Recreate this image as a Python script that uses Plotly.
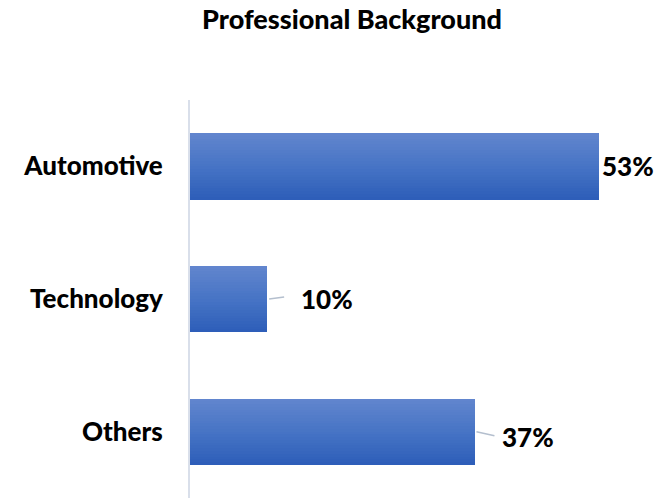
import plotly.graph_objects as go

# Survey breakdown of professional background (share of respondents, %)
categories = ["Automotive", "Technology", "Others"]
shares = [53, 10, 37]
value_labels = ["53%", "10%", "37%"]

# Label placement: pixel gap from bar end, vertical nudge, and whether a leader line is drawn
label_gap = [1, 32, 25]
label_nudge = [0, 0, -5]
leader = [None, (2, 0, 17, 2), (1, 0, 19, -4)]

positions = list(range(len(categories)))
BAR_W = 0.5
N_STRIPS = 24

top_rgb = (98, 134, 206)
mid_rgb = (68, 114, 196)
bot_rgb = (45, 93, 184)


def shade(t):
    # vertical gradient: lighter at the top edge, darker at the bottom edge
    if t < 0.55:
        a, b, u = top_rgb, mid_rgb, t / 0.55
    else:
        a, b, u = mid_rgb, bot_rgb, (t - 0.55) / 0.45
    r, g, bl = (round(a[i] + (b[i] - a[i]) * u) for i in range(3))
    return f"rgb({r},{g},{bl})"


fig = go.Figure()
step = BAR_W / N_STRIPS
for k in range(N_STRIPS):
    w = step * (1.0 if k == N_STRIPS - 1 else 1.15)
    fig.add_trace(go.Bar(
        x=shares,
        y=positions,
        orientation="h",
        width=[w] * len(shares),
        offset=[-BAR_W / 2 + k * step] * len(shares),
        marker=dict(color=shade((k + 0.5) / N_STRIPS), line=dict(width=0)),
        hoverinfo="skip",
        showlegend=False,
    ))

font_family = "Lato, 'Open Sans', sans-serif"

annotations = []
shapes = []
for pos, val, txt, gap, dy, ld in zip(positions, shares, value_labels, label_gap, label_nudge, leader):
    annotations.append(dict(
        x=val, y=pos, xref="x", yref="y", text=txt, showarrow=False,
        xanchor="left", yanchor="middle", xshift=gap, yshift=dy,
        font=dict(family=font_family, size=26, color="#000000", weight=900),
    ))
    if ld is not None:
        x0, y0, x1, y1 = ld
        shapes.append(dict(
            type="line", xref="x", yref="y",
            xsizemode="pixel", ysizemode="pixel",
            xanchor=val, yanchor=pos,
            x0=x0, y0=y0, x1=x1, y1=y1,
            line=dict(color="#B4BFCE", width=1.5),
        ))

fig.update_layout(
    width=656, height=498,
    margin=dict(l=190, r=0, t=100, b=0),
    paper_bgcolor="white", plot_bgcolor="white",
    barmode="overlay", bargap=0,
    title=dict(
        text="Professional Background",
        x=352 / 656, xanchor="center", y=1 - 20 / 498, yanchor="middle",
        font=dict(family=font_family, size=27, color="#000000", weight=900),
    ),
    xaxis=dict(range=[0, 60.4], visible=False, showgrid=False, zeroline=False),
    yaxis=dict(
        range=[len(categories) - 0.5, -0.5],
        tickmode="array", tickvals=positions, ticktext=categories,
        showline=True, linecolor="#D9DFEA", linewidth=2,
        showgrid=False, zeroline=False, ticks="",
        ticklabelstandoff=20,
        tickfont=dict(family=font_family, size=26, color="#000000", weight=900),
    ),
    annotations=annotations,
    shapes=shapes,
)

fig.write_html("out.html")
